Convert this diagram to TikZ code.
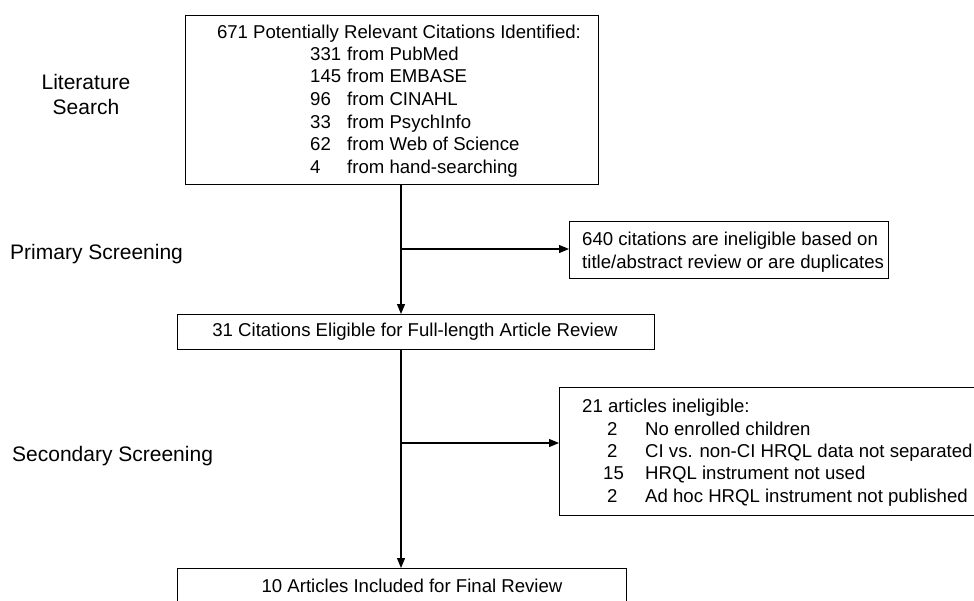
\documentclass[tikz,border=0pt]{standalone}
\usepackage{fontspec}
\setmainfont{Liberation Sans}
\usetikzlibrary{arrows.meta}
\begin{document}
\begin{tikzpicture}[x=1pt,y=-1pt,
  box/.style={draw, line width=1.2pt, inner sep=0pt, anchor=north west},
  txt/.style={inner sep=0pt, font=\fontsize{18.6}{22}\selectfont, text height=13.5pt, text depth=4pt},
  side/.style={inner sep=0pt, font=\fontsize{21}{25}\selectfont, text height=15pt, text depth=4.5pt},
  conn/.style={line width=1.2pt},
  arr/.style={conn, -{Triangle[length=10pt,width=8pt]}}]
\useasboundingbox (0,0) rectangle (974,600);
% boxes
\node[box, minimum width=413pt, minimum height=169pt] (top) at (185,15) {};
\node[box, minimum width=319pt, minimum height=57pt] (b640) at (569,221) {};
\node[box, minimum width=477pt, minimum height=35pt] (b31) at (177,314) {};
\node[box, minimum width=421pt, minimum height=128pt] (b21) at (559,387) {};
\node[box, minimum width=449pt, minimum height=42pt] (b10) at (177,568) {};
% top box text
\node[txt] (t0) at (399,34) {671 Potentially Relevant Citations Identified:};
\node[txt, anchor=west] (n1) at (310,56) {331};
\node[txt, anchor=west] (f1) at (347,56) {from PubMed};
\node[txt, anchor=west] (n2) at (310,78) {145};
\node[txt, anchor=west] (f2) at (347,78) {from EMBASE};
\node[txt, anchor=west] (n3) at (310,101) {96};
\node[txt, anchor=west] (f3) at (347,101) {from CINAHL};
\node[txt, anchor=west] (n4) at (310,124) {33};
\node[txt, anchor=west] (f4) at (347,124) {from PsychInfo};
\node[txt, anchor=west] (n5) at (310,146) {62};
\node[txt, anchor=west] (f5) at (347,146) {from Web of Science};
\node[txt, anchor=west] (n6) at (310,169) {4};
\node[txt, anchor=west] (f6) at (347,169) {from hand-searching};
% 640 box text
\node[txt, anchor=west] (e1) at (582,241) {640 citations are ineligible based on};
\node[txt, anchor=west] (e2) at (582,264) {title/abstract review or are duplicates};
% 31 box text
\node[txt] (c31) at (415,332) {31 Citations Eligible for Full-length Article Review};
% 21 box text
\node[txt, anchor=west] (a0) at (582,408) {21 articles ineligible:};
\node[txt, anchor=west] (m1) at (607,431) {2};
\node[txt, anchor=west] (r1) at (645,431) {No enrolled children};
\node[txt, anchor=west] (m2) at (607,453) {2};
\node[txt, anchor=west] (r2) at (645,453) {CI vs. non-CI HRQL data not separated};
\node[txt, anchor=west] (m3) at (603,475) {15};
\node[txt, anchor=west] (r3) at (645,475) {HRQL instrument not used};
\node[txt, anchor=west] (m4) at (607,498) {2};
\node[txt, anchor=west] (r4) at (645,498) {Ad hoc HRQL instrument not published};
% 10 box text
\node[txt] (c10) at (412,588) {10 Articles Included for Final Review};
% left labels
\node[side] (lit1) at (86,84) {Literature};
\node[side] (lit2) at (86,109) {Search};
\node[side, anchor=west] (prim) at (10,254) {Primary Screening};
\node[side, anchor=west] (sec) at (12,456) {Secondary Screening};
% connectors
\coordinate (j1) at (401,249);
\coordinate (j2) at (401,443);
\draw[conn] (top.south -| j1) -- (j1);
\draw[arr] (j1) -- (b640.west |- j1);
\draw[arr] (j1) -- (b31.north -| j1);
\draw[conn] (b31.south -| j2) -- (j2);
\draw[arr] (j2) -- (b21.west |- j2);
\draw[arr] (j2) -- (b10.north -| j2);
\end{tikzpicture}
\end{document}
